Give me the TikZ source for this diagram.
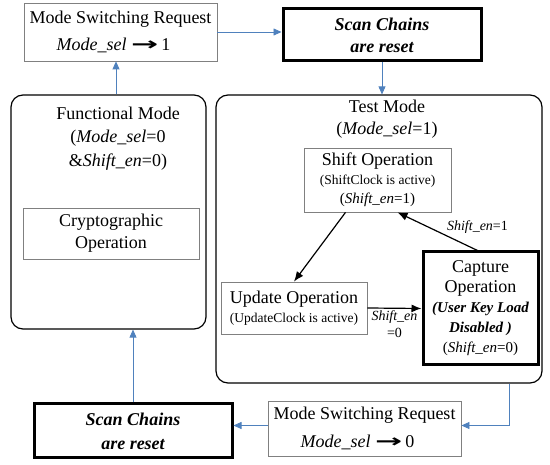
\documentclass[tikz,border=0pt]{standalone}
\usepackage{fontspec}
\usepackage{graphicx}
\setmainfont{LiberationSerif}[Extension=.ttf,UprightFont=*-Regular,BoldFont=*-Bold,
  ItalicFont=*-Italic,BoldItalicFont=*-BoldItalic]
\newfontfamily\arrowfont{DejaVu Sans}
\usetikzlibrary{arrows.meta}
\definecolor{flowblue}{RGB}{79,129,189}
\definecolor{boxgray}{RGB}{128,128,128}
\newcommand{\modearrow}{\scalebox{1.8}[1]{\arrowfont\bfseries →}}
\newcommand{\smalltext}{\fontsize{13.5}{15}\selectfont}
\newcommand{\midtext}{\fontsize{15}{17}\selectfont}
\begin{document}
\begin{tikzpicture}[x=1pt,y=-1pt,
    thinbox/.style={draw=boxgray,line width=0.8pt,inner sep=0pt,align=center},
    thickbox/.style={draw=black,line width=3pt,inner sep=0pt,align=center},
    modebox/.style={draw=black,line width=1.2pt,rounded corners=12pt,inner sep=0pt},
    flow/.style={draw=flowblue,line width=0.8pt,-{Triangle[length=8pt,width=7pt]}},
    trans/.style={draw=black,line width=1.2pt,-{Latex[length=10pt,width=8pt]}},
    font=\fontsize{18}{22}\selectfont]
  \useasboundingbox (0,0) rectangle (550,465);
  \draw
    (120.5,32) node[thinbox,minimum width=193pt,minimum height=58pt,
      font=\fontsize{18}{27}\selectfont] (msrtop){Mode Switching Request\\\textit{Mode\_sel} \modearrow\,1\hspace*{14pt}}
    (382,35) node[thickbox,minimum width=198pt,minimum height=52pt,
      font=\fontsize{18}{22}\selectfont\bfseries\itshape] (sctop){Scan Chains\\are reset}
    (108.5,212) node[modebox,minimum width=195pt,minimum height=234pt] (fmode){}
    (379,239) node[modebox,minimum width=326pt,minimum height=288pt] (tmode){}
    (118,138.5) node[align=center,font=\fontsize{18}{23.5}\selectfont] (ftitle){Functional Mode\\(\textit{Mode\_sel}=0\\\&\textit{Shift\_en}=0)}
    (387,119) node[align=center] (ttitle){Test Mode\\(\textit{Mode\_sel}=1)}
    (111,233.5) node[thinbox,minimum width=176pt,minimum height=51pt] (crypto){Cryptographic\\Operation}
    (377.5,180) node[thinbox,minimum width=147pt,minimum height=64pt,
      font=\fontsize{18}{19}\selectfont] (shiftop){Shift Operation\\{\smalltext (ShiftClock is active)}\\{\midtext (\textit{Shift\_en}=1)}}
    (294,308) node[thinbox,minimum width=146pt,minimum height=52pt,
      font=\fontsize{18}{19}\selectfont] (updateop){Update Operation\\{\smalltext (UpdateClock is active)}}
    (480.5,308.5) node[thickbox,minimum width=115pt,minimum height=113pt,
      font=\fontsize{18}{20}\selectfont] (captureop){Capture\\Operation\\{\midtext\bfseries\itshape (User Key Load}\\{\midtext\bfseries\itshape Disabled )}\\{\midtext (\textit{Shift\_en}=0)}}
    (364.5,428.5) node[thinbox,minimum width=193pt,minimum height=55pt,
      font=\fontsize{18}{28}\selectfont] (msrbot){Mode Switching Request\\\textit{Mode\_sel} \modearrow\,0\hspace*{14pt}}
    (133,431) node[thickbox,minimum width=198pt,minimum height=54pt,
      font=\fontsize{18}{24}\selectfont\bfseries\itshape] (scbot){Scan Chains\\are reset};
  \begin{scope}[flow]
    \coordinate (fup) at ([xshift=-4.5pt]msrtop.south);
    \draw (fup |- fmode.north) -- (fup);
    \draw (msrtop.east) -- (msrtop.east -| sctop.west);
    \draw (sctop.south) -- (sctop.south |- tmode.north);
    \coordinate (tdown) at ([xshift=130pt]tmode.south);
    \coordinate (mbin) at ([yshift=3pt]msrbot.east);
    \coordinate (mbout) at ([yshift=3pt]msrbot.west);
    \draw (tdown) |- (mbin);
    \draw (mbout) -- (mbout -| scbot.east);
    \draw (scbot.north) -- (scbot.north |- fmode.south);
  \end{scope}
  \begin{scope}[trans]
    \coordinate (sdown) at ([xshift=-32pt]shiftop.south);
    \coordinate (cup) at ([xshift=-3pt]captureop.north);
    \coordinate (sin) at ([xshift=20pt]shiftop.south);
    \draw (sdown) -- (updateop.north);
    \draw (cup) -- node[pos=0.4,anchor=south west,inner sep=1pt,
      font=\fontsize{14}{16}\selectfont] (lblone){\textit{Shift\_en}=1} (sin);
    \draw (updateop.east) -- node[midway,below,align=center,inner sep=2pt,
      font=\fontsize{14}{17}\selectfont] (lblzero){\textit{Shift\_en}\\=0} (captureop.west);
  \end{scope}
\end{tikzpicture}
\end{document}
